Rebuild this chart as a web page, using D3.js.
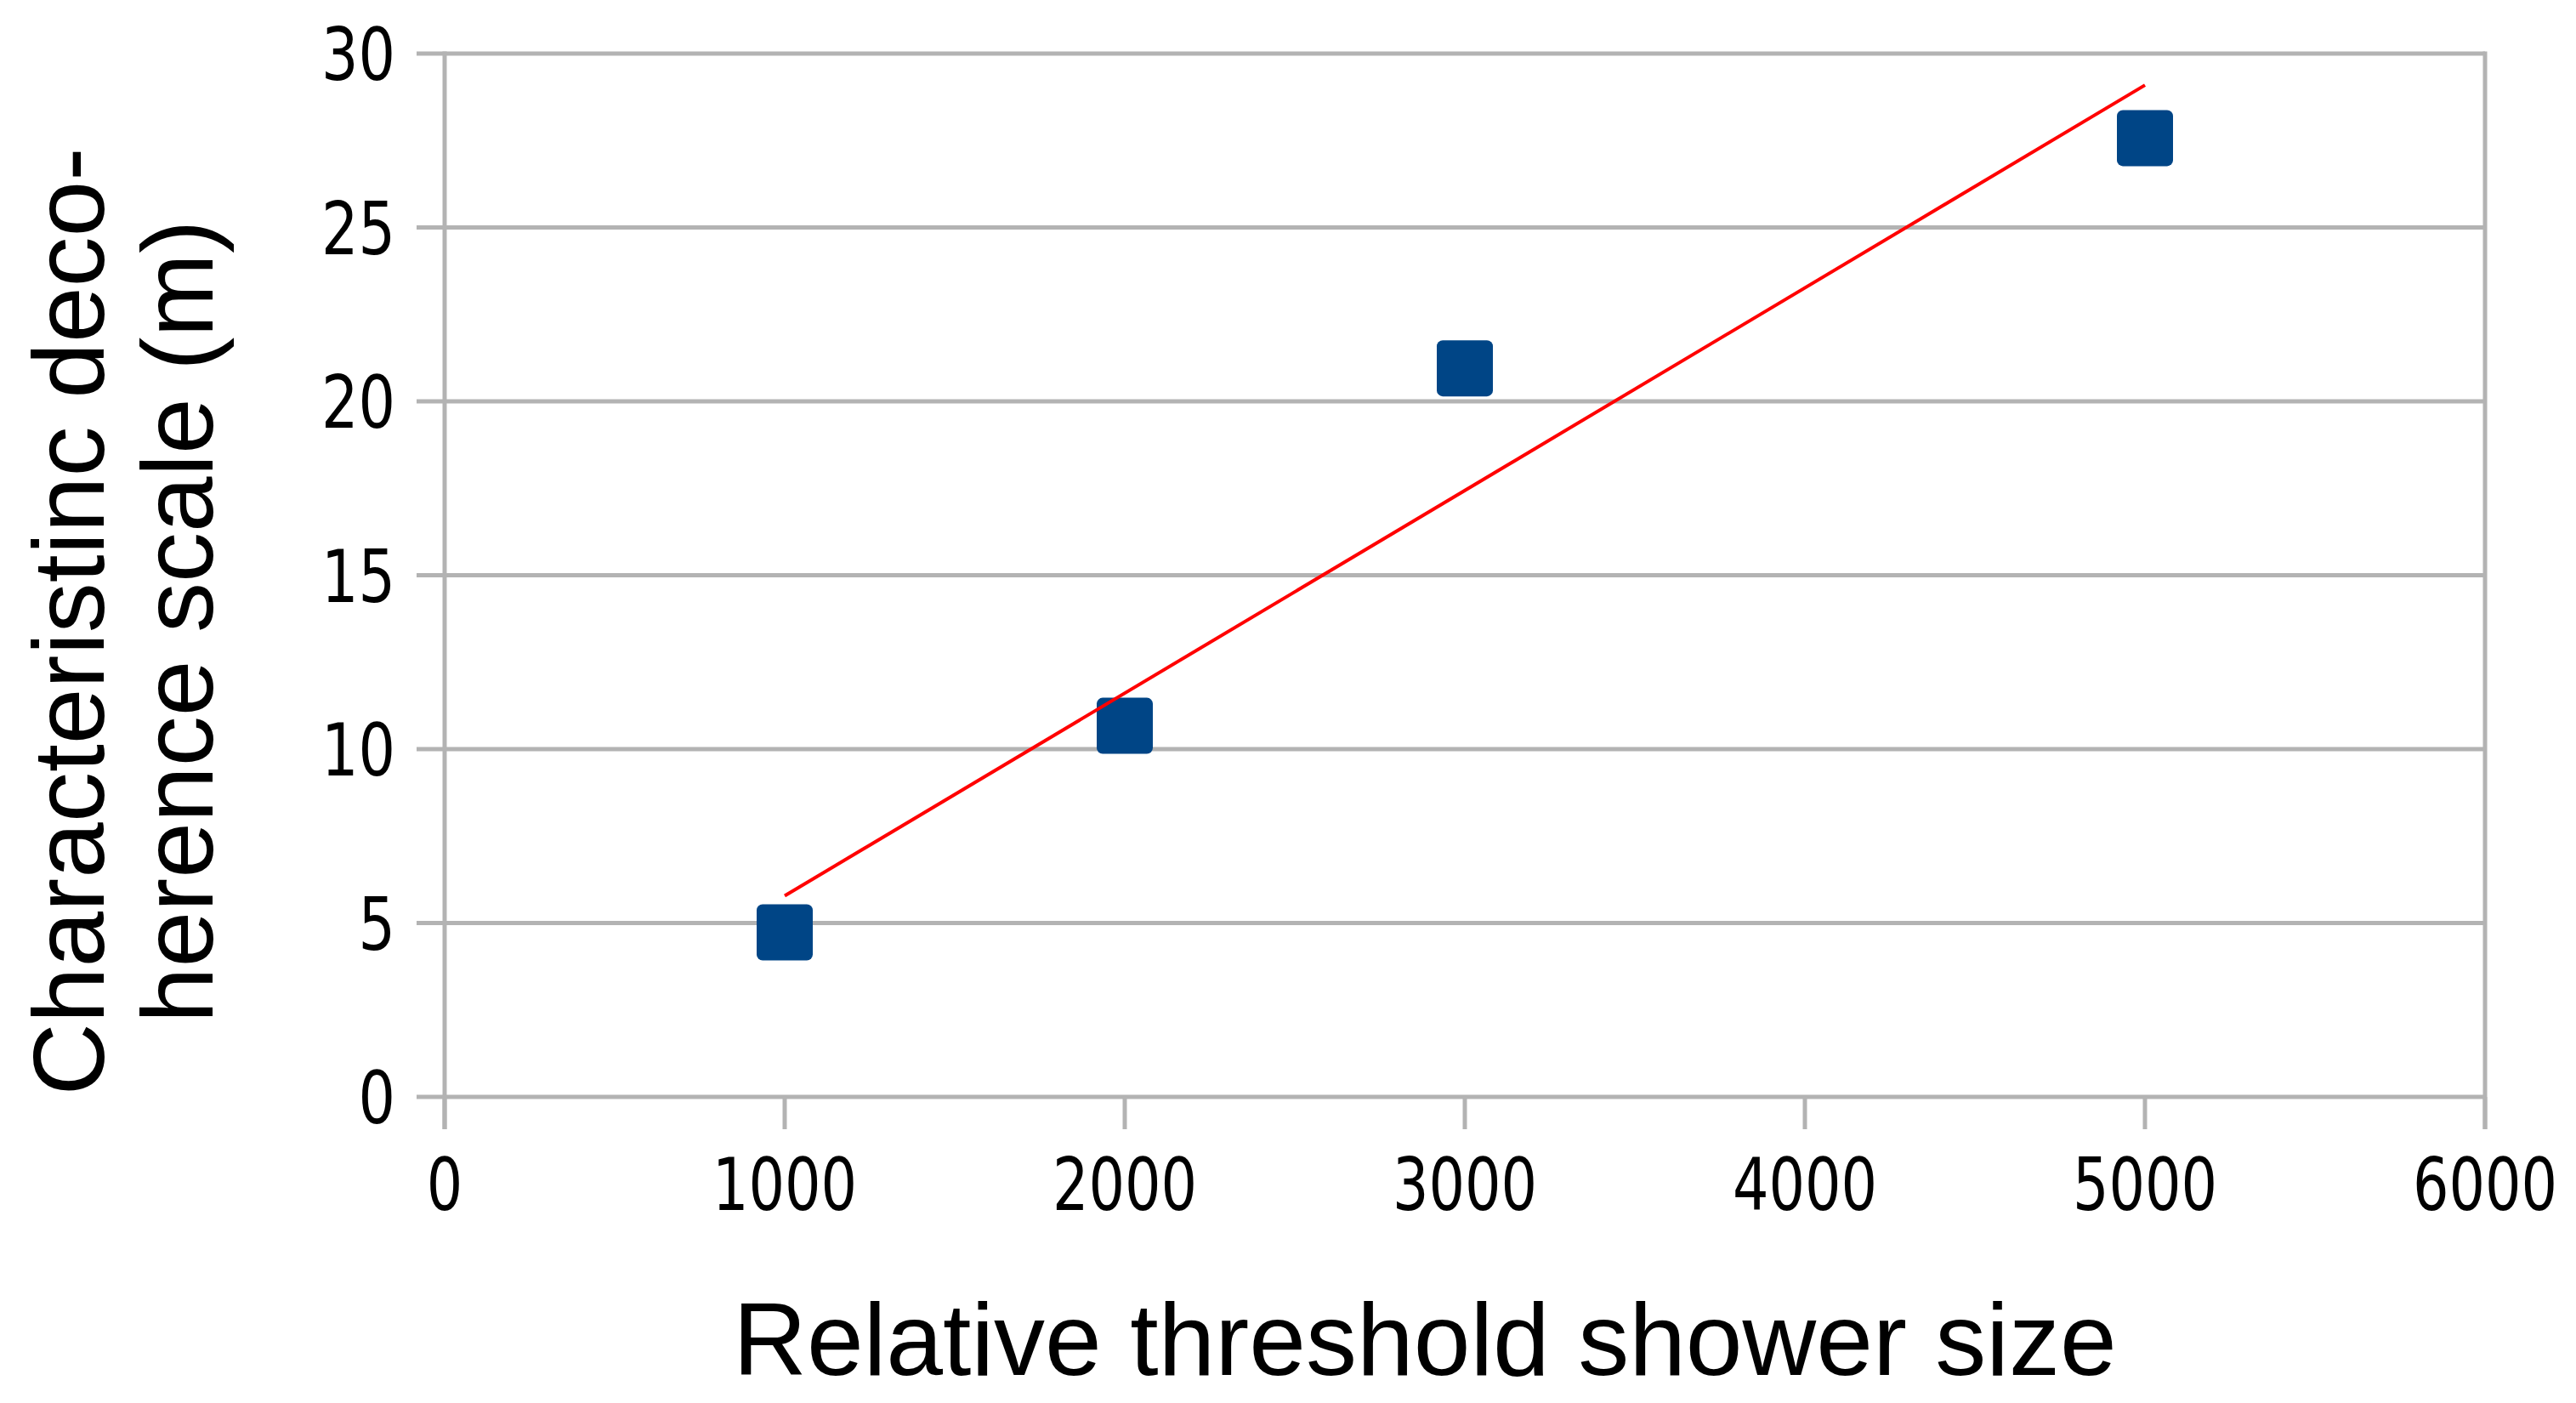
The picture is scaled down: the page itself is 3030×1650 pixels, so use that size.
<!DOCTYPE html>
<html>
<head>
<meta charset="utf-8">
<script src="https://cdn.jsdelivr.net/npm/d3@7"></script>
<style>
  html, body { margin: 0; padding: 0; background: #ffffff; }
  svg { display: block; }
</style>
</head>
<body>
<script>
// ---- data ----
const showerSize = [1000, 2000, 3000, 5000];
const decoherenceScale = [4.73, 10.67, 20.95, 27.57];
const xTicks = [0, 1000, 2000, 3000, 4000, 5000, 6000];
const yTicks = [0, 5, 10, 15, 20, 25, 30];
const xTitle = "Relative threshold shower size";
const yTitleLines = ["Characteristinc deco-", "herence scale (m)"];

// ---- layout ----
const W = 3030, H = 1650;
const plotLeft = 523, plotRight = 2923, plotTop = 63, plotBottom = 1290;
const gridColor = "#b3b3b3";

const svg = d3.select("body").append("svg").attr("width", W).attr("height", H);

const x = d3.scaleLinear().domain([0, 6000]).range([plotLeft, plotRight]);
const y = d3.scaleLinear().domain([0, 30]).range([plotBottom, plotTop]);

// horizontal gridlines (with outward tick on the left)
svg.append("g").selectAll("line").data(yTicks).join("line")
  .attr("x1", plotLeft - 33).attr("x2", plotRight)
  .attr("y1", d => y(d)).attr("y2", d => y(d))
  .attr("stroke", gridColor).attr("stroke-width", 5);

// vertical axis line and right border
svg.append("line").attr("x1", plotLeft).attr("x2", plotLeft).attr("y1", plotTop - 2.5).attr("y2", plotBottom + 38)
  .attr("stroke", gridColor).attr("stroke-width", 5);
svg.append("line").attr("x1", plotRight).attr("x2", plotRight).attr("y1", plotTop - 2.5).attr("y2", plotBottom + 38)
  .attr("stroke", gridColor).attr("stroke-width", 5);

// x ticks
svg.append("g").selectAll("line").data(xTicks).join("line")
  .attr("x1", d => x(d)).attr("x2", d => x(d))
  .attr("y1", plotBottom).attr("y2", plotBottom + 38)
  .attr("stroke", gridColor).attr("stroke-width", 5);

// tick labels
const tickFont = "'DejaVu Sans Condensed', 'DejaVu Sans', sans-serif";
svg.append("g").selectAll("text").data(yTicks).join("text")
  .attr("x", plotLeft - 58).attr("y", d => y(d) + 31)
  .attr("text-anchor", "end")
  .attr("font-family", tickFont).attr("font-stretch", "condensed")
  .attr("font-size", 85).attr("fill", "#000")
  .attr("textLength", d => String(d).length * 43.5)
  .attr("lengthAdjust", "spacingAndGlyphs")
  .text(d => d);

svg.append("g").selectAll("text").data(xTicks).join("text")
  .attr("x", d => x(d)).attr("y", plotBottom + 133)
  .attr("text-anchor", "middle")
  .attr("font-family", tickFont).attr("font-stretch", "condensed")
  .attr("font-size", 85).attr("fill", "#000")
  .attr("textLength", d => String(d).length * 42.5)
  .attr("lengthAdjust", "spacingAndGlyphs")
  .text(d => d);

// axis titles
const titleFont = "'Liberation Sans', Arial, sans-serif";
svg.append("text")
  .attr("x", 1676).attr("y", 1617)
  .attr("text-anchor", "middle")
  .attr("font-family", titleFont).attr("font-size", 120).attr("fill", "#000")
  .text(xTitle);

const yt = svg.append("text")
  .attr("transform", "translate(0,731) rotate(-90)")
  .attr("text-anchor", "middle")
  .attr("font-family", titleFont).attr("font-size", 118).attr("fill", "#000");
yt.selectAll("tspan").data(yTitleLines).join("tspan")
  .attr("x", 0).attr("y", (d, i) => 122 + i * 128)
  .text(d => d);

// linear trend line (least squares fit of the data)
const n = showerSize.length;
const mx = d3.mean(showerSize), my = d3.mean(decoherenceScale);
let sxy = 0, sxx = 0;
for (let i = 0; i < n; i++) {
  sxy += (showerSize[i] - mx) * (decoherenceScale[i] - my);
  sxx += (showerSize[i] - mx) ** 2;
}
const slope = sxy / sxx, intercept = my - slope * mx;
const xMin = d3.min(showerSize), xMax = d3.max(showerSize);

// markers
const size = 66;
svg.append("g").selectAll("rect").data(showerSize).join("rect")
  .attr("x", d => x(d) - size / 2)
  .attr("y", (d, i) => y(decoherenceScale[i]) - size / 2)
  .attr("width", size).attr("height", size)
  .attr("rx", 7).attr("ry", 7)
  .attr("fill", "#004586");

svg.append("line")
  .attr("x1", x(xMin)).attr("y1", y(intercept + slope * xMin))
  .attr("x2", x(xMax)).attr("y2", y(intercept + slope * xMax))
  .attr("stroke", "#ff0000").attr("stroke-width", 4);
</script>
</body>
</html>
